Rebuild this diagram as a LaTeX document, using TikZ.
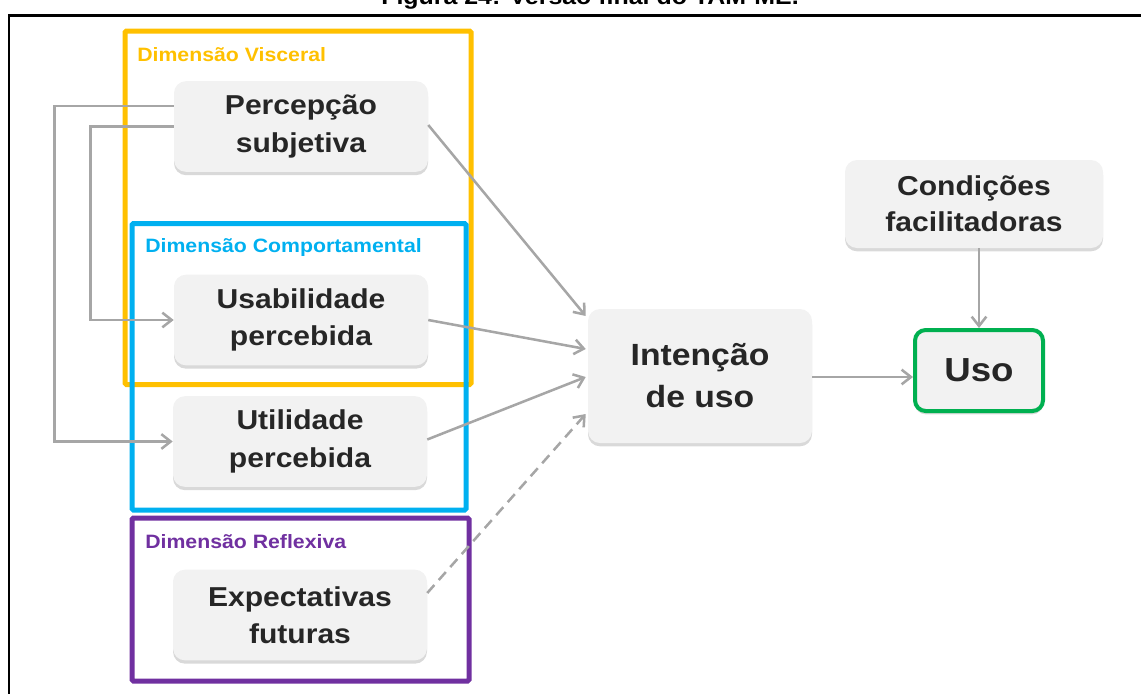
\documentclass[tikz,border=0pt]{standalone}
\usepackage{fontspec}
\setmainfont[FakeStretch=1.1]{Liberation Sans}
\usepackage{tikz}
\usetikzlibrary{arrows.meta,calc,shadows}

\definecolor{visceral}{HTML}{FFC000}
\definecolor{comport}{HTML}{00B0F0}
\definecolor{reflex}{HTML}{7030A0}
\definecolor{verdeuso}{HTML}{00B050}
\definecolor{cinzaseta}{HTML}{A6A6A6}
\definecolor{cinzacaixa}{HTML}{F2F2F2}
\definecolor{textocaixa}{HTML}{262626}

\begin{document}
\begin{tikzpicture}[x=0.75pt,y=-0.75pt,
  caixa/.style={rounded corners=9pt, fill=cinzacaixa, text=textocaixa,
    align=center, inner sep=0pt,
    font=\bfseries\fontsize{20.5}{28}\selectfont,
    minimum width=190.5pt, minimum height=68pt,
    drop shadow={shadow xshift=0pt, shadow yshift=-2.5pt, opacity=0.3}},
  dimensao/.style={anchor=base west, inner sep=0pt,
    font=\bfseries\fontsize{14.5}{17}\selectfont},
  moldura/.style={line width=3.75pt, rounded corners=1pt},
  seta/.style={draw=cinzaseta, line width=1.9pt,
    -{Straight Barb[length=7pt,width=11pt]}}]

  \clip (0,0) rectangle (1141,693);

  % caption and frame
  \node[anchor=base, inner sep=0pt, font=\bfseries\fontsize{17}{20}\selectfont]
    (titulo) at (590,4) {Figura 24: Versão final do TAM-ME.};
  \draw[line width=1.9pt] (9,720) |- (1160,15.5);

  % dimensions
  \draw[moldura, visceral] (125,31) rectangle (471,384.5);
  \draw[moldura, comport] (132,223.5) rectangle (466,510);
  \draw[moldura, reflex] (132,518) rectangle (469,681);

  \node[dimensao, text=visceral] (lblvisceral) at (137,61) {Dimensão Visceral};
  \node[dimensao, text=comport] (lblcomport) at (145,252) {Dimensão Comportamental};
  \node[dimensao, text=reflex] (lblreflex) at (145,548) {Dimensão Reflexiva};

  % constructs
  \node[caixa] (percepcao) at (301,126.5) {Percepção\\subjetiva};
  \node[caixa] (usabilidade) at (301,320) {Usabilidade\\percebida};
  \node[caixa] (utilidade) at (300,441.5) {Utilidade\\percebida};
  \node[caixa] (expectativas) at (300,615) {Expectativas\\futuras};

  \node[caixa, minimum width=168pt, minimum height=100.5pt,
    font=\bfseries\fontsize{23}{31.5}\selectfont] (intencao) at (700,376) {Intenção\\de uso};
  \node[caixa, minimum width=193.5pt, minimum height=66pt,
    font=\bfseries\fontsize{20.5}{27}\selectfont] (condicoes) at (974,204) {Condições\\facilitadoras};
  \node[caixa, draw=verdeuso, line width=3pt, rounded corners=8pt,
    minimum width=96pt, minimum height=60.75pt,
    font=\bfseries\fontsize{25}{30}\selectfont] (uso) at (979,370.5) {Uso};

  % connectors
  \draw[seta] ($(percepcao.west)+(0,-20.5)$) -| ($(utilidade.west)+(-118,0)$)
    -- (utilidade.west);
  \draw[seta] (percepcao.west) -| ($(usabilidade.west)+(-83,0)$)
    -- (usabilidade.west);

  \draw[seta] ($(percepcao.east)+(0,-1.5)$) -- ($(intencao.west)+(-2,-60)$);
  \draw[seta] (usabilidade.east) -- ($(intencao.west)+(-2,-27)$);
  \draw[seta] ($(utilidade.east)+(0,-2)$) -- ($(intencao.west)+(-2,1)$);
  \draw[seta, dash pattern=on 8pt off 5pt] ($(expectativas.east)+(0,-22)$)
    -- ($(intencao.west)+(-2,38)$);

  \draw[seta] ($(intencao.east)+(0,1)$) -- ($(intencao.east -| uso.west)+(0,1)$);
  \draw[seta] (uso.north |- condicoes.south) -- (uso.north);

\end{tikzpicture}
\end{document}
